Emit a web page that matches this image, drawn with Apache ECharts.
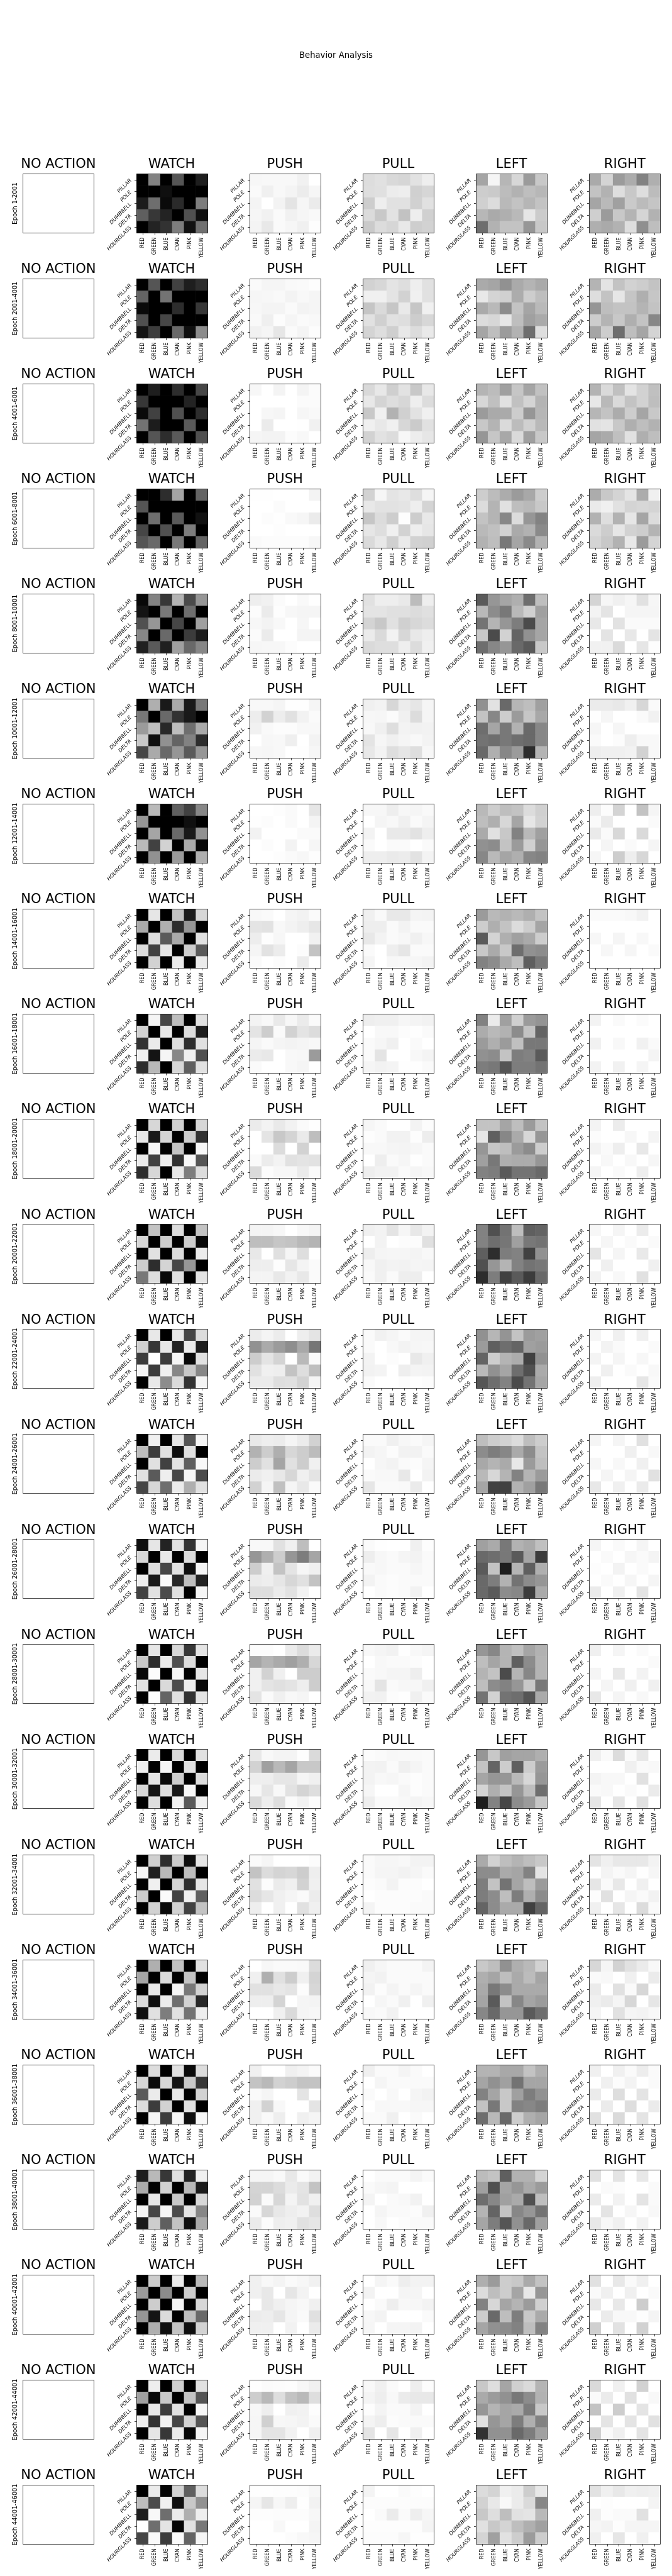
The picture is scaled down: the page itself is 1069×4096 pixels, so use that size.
<!DOCTYPE html>
<html>
<head>
<meta charset="utf-8">
<style>html,body{margin:0;padding:0;background:#fff}#c{width:1069px;height:4096px}</style>
<script src="https://cdn.jsdelivr.net/npm/echarts@6/dist/echarts.min.js"></script>
</head>
<body>
<div id="c"></div>
<script>
const shapes = ['PILLAR','POLE','DUMBBELL','DELTA','HOURGLASS'];
const colours = ['RED','GREEN','BLUE','CYAN','PINK','YELLOW'];
const actions = ['NO ACTION','WATCH','PUSH','PULL','LEFT','RIGHT'];
const epochs = ['1-2001','2001-4001','4001-6001','6001-8001','8001-10001','10001-12001','12001-14001','14001-16001','16001-18001','18001-20001','20001-22001','22001-24001','24001-26001','26001-28001','28001-30001','30001-32001','32001-34001','34001-36001','36001-38001','38001-40001','40001-42001','42001-44001','44001-46001'];
// Grey levels, one line per epoch, 5 rows of 6 cells.
const watch = [
[0,130,0,85,0,30, 0,0,15,0,0,0, 28,110,10,42,0,125, 95,55,35,0,80,15, 0,35,50,125,17,112],
[0,85,0,65,30,45, 100,0,115,0,0,0, 10,0,0,45,0,55, 80,0,70,0,0,0, 20,60,0,105,15,140],
[0,30,0,45,0,70, 55,0,0,0,35,0, 10,65,0,80,0,45, 115,28,0,0,90,0, 0,85,45,90,0,80],
[0,0,45,165,0,100, 85,0,0,0,0,0, 0,110,0,90,0,17, 70,0,80,0,125,0, 85,105,0,120,0,100],
[8,130,55,180,75,150, 20,0,120,0,110,0, 80,150,0,70,0,160, 135,0,105,0,60,28, 32,90,32,160,105,135],
[0,175,25,170,25,120, 120,0,105,50,25,0, 155,190,40,190,110,170, 200,15,145,100,130,45, 70,170,105,150,90,150],
[0,185,0,95,65,135, 150,0,0,0,15,0, 0,165,0,105,25,145, 185,65,210,0,170,8, 0,145,0,155,0,175],
[0,230,0,195,28,215, 170,0,175,45,150,0, 0,222,90,170,0,225, 220,65,230,0,205,90, 0,210,0,235,0,235],
[0,245,70,190,0,225, 210,0,232,0,220,30, 50,235,0,222,45,225, 240,20,245,135,240,80, 45,185,0,215,95,225],
[0,215,0,210,0,215, 232,25,212,0,205,50, 0,246,0,195,0,247, 235,65,238,50,247,85, 45,215,0,232,125,220],
[0,195,0,220,0,195, 215,0,205,0,205,8, 0,225,0,220,0,235, 205,45,212,70,150,0, 120,222,8,225,0,228],
[0,232,0,232,70,220, 208,55,230,35,235,30, 60,255,60,245,10,225, 245,60,240,135,200,135, 0,232,140,218,50,244],
[0,240,0,230,85,245, 190,60,225,15,225,0, 0,225,65,228,95,248, 225,90,238,70,245,75, 70,215,110,235,175,225],
[15,230,35,225,50,245, 215,0,232,0,220,0, 0,222,70,225,15,245, 238,25,250,40,190,35, 65,225,75,225,0,245],
[0,230,0,215,55,228, 200,45,235,80,220,0, 8,252,0,245,0,230, 225,0,218,75,238,10, 0,253,100,225,50,228],
[0,235,0,218,0,225, 238,0,245,0,225,0, 0,228,10,205,0,220, 215,20,222,25,247,0, 0,222,0,242,90,240],
[0,208,45,205,15,230, 245,30,185,0,190,0, 0,240,0,212,45,230, 205,0,250,65,240,95, 0,210,10,210,65,195],
[0,175,0,195,0,225, 165,0,218,0,195,0, 0,232,0,245,120,210, 218,15,235,110,210,40, 15,225,125,225,115,238],
[0,220,0,225,10,220, 215,10,215,20,200,55, 90,235,0,232,0,210, 222,60,210,0,225,0, 0,245,60,245,15,247],
[30,185,55,225,35,240, 170,0,210,0,185,28, 0,230,0,200,0,215, 245,70,245,75,228,135, 25,205,95,195,15,170],
[0,205,0,235,0,185, 155,0,140,0,205,0, 0,205,0,245,0,215, 150,20,220,0,190,105, 0,175,15,195,15,210],
[0,238,0,208,0,225, 160,8,200,0,195,85, 0,232,60,225,0,247, 238,50,242,70,210,85, 0,230,55,235,5,245],
[0,235,5,210,95,220, 190,75,240,15,200,145, 30,248,110,235,175,238, 255,110,228,5,225,120, 70,250,60,250,100,245]
];
const push = [
[247,248,248,248,241,255, 250,240,248,244,236,246, 244,255,243,228,246,235, 246,241,250,241,246,249, 244,232,250,246,240,253],
[250,245,245,249,250,253, 246,247,249,243,248,245, 247,244,244,250,243,245, 249,239,252,245,250,248, 241,245,230,250,244,252],
[247,255,244,255,244,251, 255,255,255,255,251,251, 255,247,245,255,246,249, 255,235,255,255,254,241, 245,243,243,252,248,255],
[254,254,255,255,255,243, 255,255,251,255,255,255, 255,252,254,249,246,235, 255,255,253,255,255,255, 250,252,252,252,252,247],
[238,241,251,255,249,254, 252,235,253,247,245,245, 247,243,248,255,246,255, 251,235,255,255,244,244, 246,247,247,252,255,255],
[248,248,245,254,254,245, 237,210,237,225,242,250, 241,249,252,252,248,248, 255,247,248,239,255,243, 247,246,248,255,254,246],
[255,255,253,250,255,230, 254,252,255,250,255,244, 242,255,255,255,250,250, 255,252,255,243,255,246, 255,255,253,250,247,253],
[248,250,255,245,242,250, 228,226,248,243,238,230, 237,253,247,255,255,241, 245,226,236,255,252,195, 250,255,252,255,236,255],
[243,248,233,247,235,250, 228,205,250,210,228,220, 245,250,245,243,245,248, 235,232,255,248,247,155, 250,255,255,248,245,255],
[235,243,233,242,250,254, 255,228,200,212,234,190, 255,255,220,255,210,255, 250,236,243,225,228,226, 218,252,247,247,235,250],
[244,244,247,255,248,244, 190,190,198,195,185,180, 232,255,224,245,222,255, 238,238,253,230,244,250, 244,244,232,242,232,250],
[236,244,236,255,238,228, 145,170,155,142,168,118, 205,228,212,255,185,250, 225,240,238,195,222,190, 235,235,222,224,210,245],
[233,238,236,245,236,210, 178,205,175,215,205,188, 205,225,165,225,205,240, 235,240,232,215,240,228, 210,245,192,245,232,250],
[248,248,225,240,190,255, 150,175,205,150,125,165, 205,240,195,228,246,240, 235,238,230,215,225,195, 222,222,235,226,243,255],
[252,252,255,235,220,235, 165,180,170,160,175,215, 240,210,240,255,205,205, 240,228,224,228,238,205, 228,250,240,248,245,255],
[232,248,244,244,253,218, 210,160,185,165,200,200, 238,238,230,230,245,240, 247,230,248,226,212,222, 218,238,222,250,242,252],
[250,245,255,255,255,252, 195,220,212,215,205,238, 225,252,235,240,210,240, 220,230,240,245,250,236, 238,255,240,255,225,240],
[255,247,250,250,249,220, 240,175,225,205,240,212, 225,225,232,228,252,215, 238,238,212,255,245,244, 255,255,240,218,245,247],
[240,255,255,240,244,250, 195,185,210,205,195,195, 250,245,255,255,228,255, 240,210,248,255,255,228, 240,249,238,255,240,245],
[245,245,249,232,250,242, 212,212,220,235,228,195, 210,250,215,244,226,240, 250,215,232,238,242,222, 235,252,238,240,225,230],
[240,248,244,250,247,241, 240,232,255,230,243,255, 255,232,240,245,248,240, 236,238,230,245,250,224, 240,240,255,242,255,235],
[254,251,252,253,247,240, 205,185,222,195,185,222, 247,238,255,240,242,253, 246,208,247,246,243,250, 246,228,228,242,255,240],
[254,254,253,253,252,247, 245,230,247,238,254,242, 253,253,252,252,252,247, 255,255,248,255,255,244, 255,255,255,252,248,246]
];
const pull = [
[221,225,217,214,226,238, 222,224,236,238,208,214, 205,238,225,225,209,225, 219,200,226,194,238,208, 202,220,214,232,206,210],
[210,215,228,222,238,225, 240,240,228,210,240,225, 197,218,198,233,198,240, 225,208,225,222,205,215, 212,222,207,232,220,233],
[217,232,207,226,200,232, 232,212,222,215,238,220, 200,240,178,208,226,240, 240,232,240,215,203,225, 210,226,220,247,237,230],
[210,246,228,232,222,245, 232,226,226,228,238,212, 198,220,205,253,205,232, 230,222,240,210,238,230, 218,232,208,234,210,208],
[225,238,238,233,188,238, 228,228,224,224,220,224, 212,200,225,208,215,220, 235,218,242,215,232,238, 218,222,222,238,220,240],
[240,243,215,236,230,245, 247,246,251,240,220,245, 248,240,222,243,241,242, 228,246,240,245,248,243, 232,243,222,230,222,247],
[247,247,238,247,245,249, 255,245,248,240,250,244, 243,255,233,233,226,238, 250,255,250,250,255,250, 238,238,234,236,226,243],
[240,249,232,232,244,243, 238,238,250,243,250,250, 232,243,250,247,240,247, 250,255,238,230,250,250, 245,255,247,248,246,243],
[238,240,240,246,244,242, 255,248,248,252,254,250, 250,246,240,255,250,255, 250,228,255,255,248,244, 245,242,244,254,254,250],
[246,250,255,255,243,252, 253,250,242,242,253,237, 248,248,245,244,246,250, 255,238,250,246,254,250, 238,242,242,250,245,248],
[240,243,228,246,232,243, 255,243,255,252,252,224, 238,245,246,246,244,248, 248,240,243,242,245,244, 250,240,250,238,238,255],
[250,241,245,250,245,245, 250,255,248,243,246,247, 243,255,252,255,232,240, 242,244,255,238,244,243, 250,255,255,252,254,252],
[250,250,240,247,250,245, 243,246,252,242,242,250, 255,246,243,250,252,245, 250,248,248,232,255,243, 230,250,250,249,235,255],
[250,254,255,255,240,253, 238,247,250,245,243,250, 249,247,250,250,246,250, 243,250,252,250,250,250, 255,250,252,250,242,255],
[248,245,242,254,248,245, 255,248,250,250,252,255, 250,248,245,245,238,255, 248,228,250,247,247,240, 242,241,252,254,240,250],
[252,250,247,248,249,250, 243,242,250,240,245,250, 243,248,246,250,253,250, 246,255,255,246,253,250, 238,250,250,248,244,247],
[250,246,246,248,243,243, 250,245,245,242,245,250, 252,250,243,252,252,255, 255,252,252,252,252,250, 244,252,252,252,250,250],
[240,246,250,250,250,243, 245,242,250,250,250,250, 242,252,244,250,245,250, 255,246,250,240,255,240, 248,250,242,255,255,255],
[240,250,250,244,250,255, 255,245,250,250,250,250, 250,255,248,255,245,242, 255,248,248,248,246,246, 250,250,240,255,250,255],
[255,250,250,250,244,250, 250,246,244,255,255,255, 244,255,250,248,242,255, 255,245,250,250,252,240, 255,248,255,252,250,250],
[255,245,250,238,243,243, 243,255,255,245,245,255, 255,250,238,248,247,243, 247,243,255,255,255,250, 246,255,245,245,243,255],
[248,240,250,255,238,252, 244,238,248,235,232,232, 253,244,250,250,243,255, 244,238,252,250,250,250, 228,255,230,255,240,255],
[244,255,255,250,253,255, 252,252,252,252,252,252, 255,250,235,250,238,246, 253,253,253,253,253,244, 252,252,252,246,254,254]
];
const left = [
[165,245,182,215,155,200, 205,202,188,178,190,183, 208,220,185,195,182,195, 183,170,175,185,230,203, 110,178,195,195,150,200],
[170,165,145,170,180,170, 232,212,208,172,205,190, 170,185,140,195,165,185, 220,215,230,190,160,170, 165,190,155,178,110,222],
[180,188,160,198,165,193, 215,192,225,193,212,180, 155,170,170,205,150,182, 200,180,218,188,208,185, 150,198,168,218,160,200],
[205,188,172,155,168,205, 220,180,225,190,185,200, 195,180,135,220,150,130, 185,192,210,170,178,138, 178,190,120,165,138,178],
[90,150,165,175,110,190, 185,140,120,185,208,160, 115,180,150,125,75,165, 200,75,210,100,145,165, 110,135,150,105,90,200],
[145,226,105,182,190,160, 195,135,205,155,198,168, 110,165,120,178,105,135, 115,110,120,110,105,135, 105,175,135,155,45,180],
[185,205,190,195,220,208, 190,175,215,165,230,210, 170,225,200,130,185,160, 145,140,195,155,208,150, 135,185,165,175,135,130],
[155,185,178,185,175,195, 205,175,195,220,205,165, 90,212,175,160,170,205, 200,170,200,110,145,140, 130,140,170,190,95,120],
[130,235,160,208,155,148, 172,185,178,140,195,100, 155,175,155,192,120,120, 145,140,195,125,130,90, 125,120,85,125,125,115],
[195,195,165,190,155,195, 230,95,135,170,215,150, 150,198,190,155,140,205, 160,120,175,172,172,150, 130,125,90,115,115,105],
[130,80,115,190,95,100, 130,110,118,160,120,115, 95,45,125,130,65,145, 80,150,180,130,115,120, 45,125,65,90,60,105],
[145,182,148,195,155,160, 155,95,110,100,160,155, 100,205,180,172,65,145, 185,145,165,110,80,170, 85,110,130,75,115,165],
[190,205,210,220,190,205, 140,125,135,170,140,195, 168,180,170,232,155,190, 185,215,180,130,180,155, 165,65,65,178,160,120],
[160,170,120,178,170,192, 105,110,120,90,165,60, 90,195,30,180,95,175, 105,125,178,115,140,150, 105,90,140,135,60,170],
[150,135,180,192,165,178, 190,165,180,95,140,180, 180,195,75,180,135,180, 190,140,130,150,200,120, 115,210,115,110,85,170],
[150,200,160,165,165,175, 195,100,205,95,205,155, 165,150,150,185,215,150, 212,175,195,150,190,110, 30,130,70,140,155,198],
[170,210,190,180,190,200, 140,140,170,165,130,228, 125,195,115,165,190,155, 125,140,190,125,175,140, 100,140,170,170,65,100],
[200,190,145,175,185,210, 175,165,190,170,188,165, 170,120,140,170,170,170, 165,90,195,135,165,155, 135,105,150,150,90,110],
[180,180,168,168,195,175, 165,145,160,115,165,165, 130,165,200,160,125,145, 195,120,200,130,135,125, 110,185,105,205,175,165],
[188,195,95,178,178,212, 160,80,165,150,170,155, 110,135,160,170,80,190, 180,100,195,135,150,115, 165,125,85,145,105,160],
[175,155,205,200,170,195, 220,190,205,165,232,150, 130,215,165,180,155,208, 205,105,190,125,200,170, 165,145,140,130,190,130],
[200,222,165,208,218,180, 170,155,145,120,140,178, 150,180,165,170,125,200, 225,150,165,125,175,130, 50,145,145,105,125,160],
[220,212,240,235,205,232, 210,232,248,235,218,135, 200,222,190,225,228,185, 225,200,212,190,175,160, 212,160,225,205,155,205]
];
const right = [
[170,212,155,172,130,175, 195,178,222,200,222,188, 165,185,160,202,187,197, 207,155,200,180,213,178, 175,170,178,222,143,190],
[180,228,195,210,205,195, 222,195,230,197,175,198, 150,190,195,195,180,195, 205,180,200,175,195,135, 165,205,110,190,165,212],
[180,218,192,228,210,192, 232,185,218,195,210,190, 182,195,172,205,165,200, 225,228,200,175,190,178, 165,170,192,225,175,190],
[172,200,212,228,172,240, 234,240,225,212,215,212, 178,222,178,230,165,220, 218,205,230,210,205,180, 212,200,178,232,155,212],
[212,246,240,246,225,246, 243,228,255,245,245,245, 232,255,226,250,250,250, 255,228,255,232,255,228, 241,241,218,255,230,253],
[235,235,232,240,215,250, 254,246,255,255,250,241, 246,255,246,255,255,255, 250,255,252,238,248,248, 238,240,240,242,210,248],
[238,252,212,255,195,245, 250,235,255,255,255,250, 234,250,216,255,218,255, 255,245,255,250,255,245, 246,255,205,238,215,255],
[250,250,250,248,242,255, 255,255,255,255,255,255, 247,255,245,255,248,255, 255,247,255,246,255,250, 255,255,255,255,255,255],
[243,255,250,255,251,255, 255,255,255,255,255,255, 241,255,248,255,241,250, 255,255,255,255,255,244, 243,255,241,255,245,255],
[243,255,236,255,255,255, 252,255,255,247,255,244, 243,250,238,255,232,255, 255,248,255,248,255,246, 245,255,250,255,238,255],
[247,255,245,255,236,255, 255,246,255,250,255,250, 229,255,245,255,233,255, 255,240,255,255,255,240, 243,255,248,255,225,255],
[246,255,240,255,240,255, 255,243,250,255,255,250, 244,255,245,255,247,255, 255,240,255,250,255,248, 238,255,255,255,230,250],
[245,255,245,255,225,255, 255,255,255,240,255,248, 246,255,248,255,240,255, 255,245,255,245,255,225, 232,255,240,255,235,255],
[245,255,250,255,245,255, 255,250,255,246,250,244, 253,255,243,255,250,255, 255,250,255,246,255,245, 235,255,240,255,228,255],
[240,255,245,255,250,255, 255,255,255,255,255,250, 245,255,232,255,243,255, 255,245,255,240,255,240, 232,255,245,255,248,255],
[240,250,220,250,232,255, 255,255,255,240,250,248, 244,248,248,255,225,255, 250,248,255,250,255,235, 230,255,230,255,225,255],
[228,240,232,232,232,243, 255,244,250,245,254,246, 230,250,232,255,240,255, 253,225,255,245,250,242, 240,255,230,255,220,250],
[215,245,210,225,235,248, 250,248,255,240,255,235, 235,255,225,250,215,255, 240,235,245,215,255,230, 245,255,225,245,243,248],
[240,255,240,250,237,250, 255,240,252,243,255,250, 235,255,222,255,228,255, 255,235,255,222,255,235, 225,255,218,255,228,255],
[225,255,228,255,232,255, 255,250,252,255,255,250, 235,255,242,255,228,250, 255,228,255,246,255,248, 232,248,240,255,242,255],
[225,255,232,250,240,255, 250,240,255,240,255,250, 232,255,232,255,205,255, 255,235,248,248,253,244, 208,255,226,255,210,255],
[218,255,240,255,210,255, 250,235,255,225,255,248, 195,255,205,255,228,255, 255,228,255,228,255,225, 208,250,240,255,228,255],
[226,240,232,240,238,240, 255,253,255,255,255,244, 240,253,250,250,225,255, 246,243,253,245,245,245, 240,255,230,255,240,255]
];

const S = 1069 / 1800;
const FONT = '"DejaVu Sans", sans-serif';
const px = v => Math.round(v * S);
const panelValues = [null, watch, push, pull, left, right];

const grids = [], xAxes = [], yAxes = [], series = [];
const titles = [{
  text: 'Behavior Analysis', left: 900 * S, top: 149 * S, textAlign: 'center', textVerticalAlign: 'middle',
  padding: 0,
  textStyle: {fontFamily: FONT, fontSize: 22.2 * S, fontWeight: 'normal', color: '#000'}
}];

epochs.forEach((ep, r) => {
  actions.forEach((act, c) => {
    const gl = 61.4 + 303.4 * c, gt = 464 + 281.3 * r;
    const idx = grids.length;
    grids.push({
      show: true, z: 5, left: px(gl) + 0.5, top: px(gt) + 0.5, width: px(190), height: px(158),
      containLabel: false, backgroundColor: 'transparent', borderColor: '#000', borderWidth: 0.75
    });
    titles.push({
      text: act, left: (gl + 95) * S, top: (gt - 6) * S, textAlign: 'center', textVerticalAlign: 'bottom',
      padding: 0,
      textStyle: {fontFamily: FONT, fontSize: 35.5 * S, fontWeight: 'normal', color: '#000', lineHeight: 35.5 * S}
    });
    const empty = !panelValues[c];
    xAxes.push({
      type: 'category', gridIndex: idx, data: colours, position: 'bottom', show: !empty,
      axisLine: {show: false},
      axisTick: {show: true, alignWithLabel: true, length: 3.5, lineStyle: {color: '#000', width: 0.75}},
      axisLabel: {interval: 0, rotate: 90, margin: 7, fontFamily: FONT, fontSize: 8, color: '#000', hideOverlap: false},
      splitLine: {show: false}
    });
    yAxes.push({
      type: 'category', gridIndex: idx, data: shapes, inverse: true, position: 'left',
      axisLine: {show: false},
      axisTick: {show: !empty, alignWithLabel: true, length: 3.5, lineStyle: {color: '#000', width: 0.75}},
      axisLabel: {show: !empty, interval: 0, rotate: 45, margin: 9.5, fontFamily: FONT, fontStyle: 'italic', fontSize: 8.25, color: '#000', hideOverlap: false},
      splitLine: {show: false},
      name: empty ? 'Epoch ' + ep : '', nameLocation: 'middle', nameRotate: 90, nameGap: 7,
      nameTextStyle: {fontFamily: FONT, fontSize: 9.7, color: '#000'}
    });
    if (!empty) {
      const vals = panelValues[c][r];
      const data = [];
      shapes.forEach((_, y) => colours.forEach((_, x) => data.push([x, y, vals[y * 6 + x]])));
      series.push({type: 'heatmap', xAxisIndex: idx, yAxisIndex: idx, data, progressive: 0, animation: false,
        itemStyle: {borderWidth: 0}, emphasis: {disabled: true}});
    }
  });
});

const chart = echarts.init(document.getElementById('c'), null, {renderer: 'canvas', width: 1069, height: 4096});
chart.setOption({
  animation: false,
  backgroundColor: '#fff',
  title: titles,
  grid: grids,
  xAxis: xAxes,
  yAxis: yAxes,
  visualMap: {show: false, type: 'continuous', min: 0, max: 255, seriesIndex: series.map((_, i) => i), inRange: {color: ['#000000', '#ffffff']}},
  series
});
</script>
</body>
</html>
